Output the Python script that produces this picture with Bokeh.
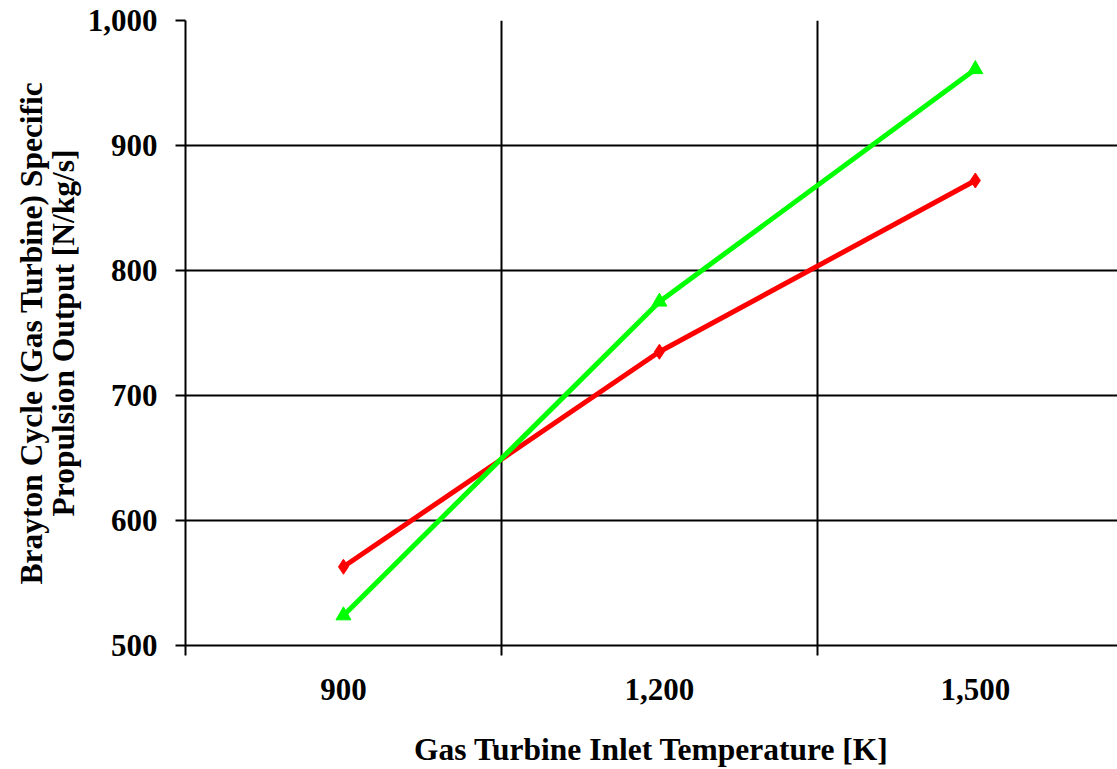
import numpy as np
from bokeh.plotting import figure
from bokeh.models import Range1d, FixedTicker, NumeralTickFormatter
from bokeh.embed import file_html
from bokeh.resources import INLINE

# Data
categories = ["900", "1,200", "1,500"]
red_values = [563, 735, 872]
green_values = [524, 775, 961]
y_ticks = [500, 600, 700, 800, 900, 1000]

xpos = list(np.arange(len(categories)) + 0.5)

FONT = "Liberation Serif"

p = figure(width=1117, height=769, output_backend="svg", toolbar_location=None,
           x_range=Range1d(0, 2.95), y_range=Range1d(500, 1000),
           min_border_left=185, min_border_right=0, min_border_top=20, min_border_bottom=10)
p.outline_line_color = None
p.background_fill_color = "white"

# Lines and markers
p.line(xpos, red_values, line_color="#FF0000", line_width=5)
p.scatter(xpos, red_values, marker="diamond", size=15, fill_color="#FF0000", line_color="#FF0000")
p.line(xpos, green_values, line_color="#00FF00", line_width=5)
p.scatter(xpos, green_values, marker="triangle", size=15, fill_color="#00FF00", line_color="#00FF00")

# X axis
xa = p.xaxis[0]
xa.ticker = FixedTicker(ticks=xpos, minor_ticks=[0, 1, 2, 3])
xa.major_label_overrides = {float(x): c for x, c in zip(xpos, categories)}
xa.major_tick_line_color = None
xa.major_tick_out = 0
xa.major_tick_in = 0
xa.minor_tick_line_color = "black"
xa.minor_tick_line_width = 2
xa.minor_tick_out = 10
xa.minor_tick_in = 0
xa.axis_line_color = "black"
xa.axis_line_width = 2
xa.major_label_text_font = FONT
xa.major_label_text_font_style = "bold"
xa.major_label_text_font_size = "31px"
xa.major_label_text_color = "black"
xa.major_label_standoff = 23
xa.axis_label = "Gas Turbine Inlet Temperature [K]"
xa.axis_label_text_font = FONT
xa.axis_label_text_font_style = "bold"
xa.axis_label_text_font_size = "31.5px"
xa.axis_label_text_color = "black"
xa.axis_label_standoff = 29

# Y axis
ya = p.yaxis[0]
ya.ticker = FixedTicker(ticks=y_ticks)
ya.formatter = NumeralTickFormatter(format="0,0")
ya.major_tick_line_color = "black"
ya.major_tick_line_width = 2
ya.major_tick_out = 10
ya.major_tick_in = 0
ya.minor_tick_line_color = None
ya.axis_line_color = "black"
ya.axis_line_width = 2
ya.major_label_text_font = FONT
ya.major_label_text_font_style = "bold"
ya.major_label_text_font_size = "31px"
ya.major_label_text_color = "black"
ya.major_label_standoff = 18
ya.axis_label = "Brayton Cycle (Gas Turbine) Specific\nPropulsion Output [N/kg/s]"
ya.axis_label_text_font = FONT
ya.axis_label_text_font_style = "bold"
ya.axis_label_text_font_size = "31.5px"
ya.axis_label_text_line_height = 0.9
ya.axis_label_text_color = "black"
ya.axis_label_standoff = 4

# Grids
p.xgrid.ticker = FixedTicker(ticks=[1, 2])
p.xgrid.grid_line_color = "black"
p.xgrid.grid_line_width = 2
p.ygrid.ticker = FixedTicker(ticks=y_ticks[1:])
p.ygrid.grid_line_color = "black"
p.ygrid.grid_line_width = 2

open("out.html", "w").write(file_html(p, INLINE))
